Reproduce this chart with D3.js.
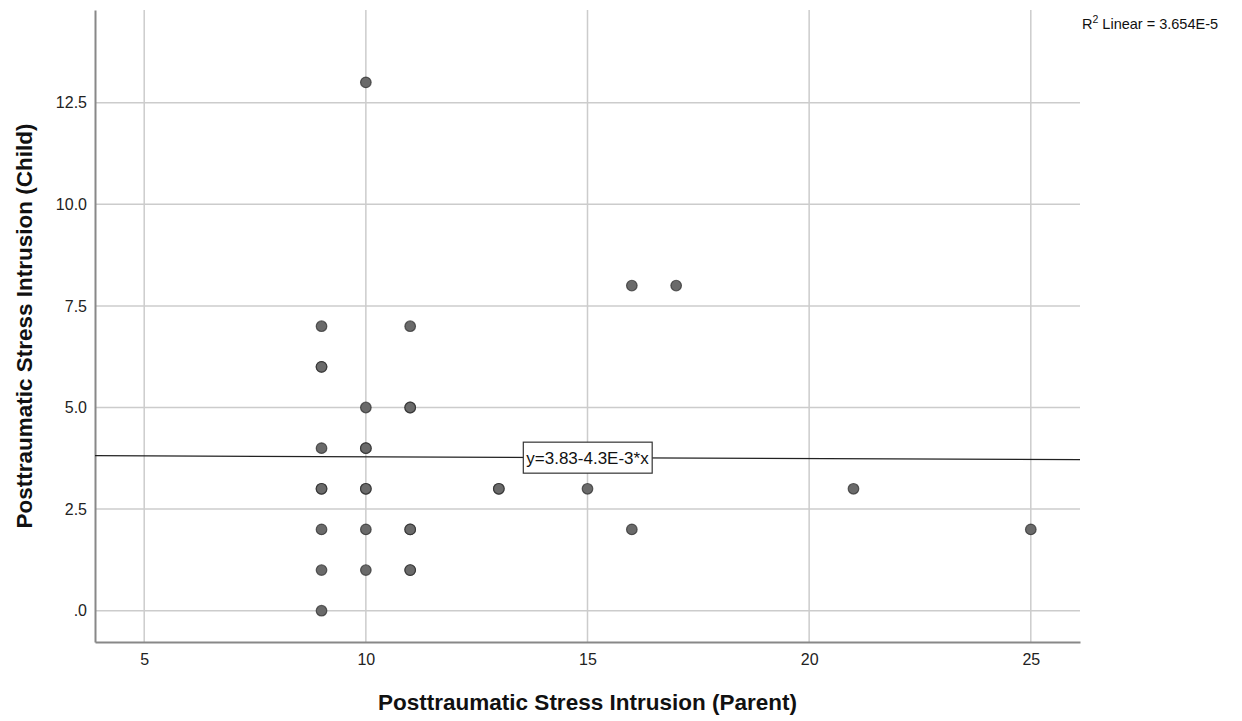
<!DOCTYPE html>
<html>
<head>
<meta charset="utf-8">
<script src="https://cdn.jsdelivr.net/npm/d3@7"></script>
<style>
  body { margin: 0; background: #fff; }
  text { font-family: "Liberation Sans", Arial, sans-serif; }
</style>
</head>
<body>
<div id="chart"></div>
<script>
// parent intrusion (x) and child intrusion (y), one entry per case
const parentScores = [9, 9, 9, 9, 9, 9, 9, 9, 9, 10, 10, 10, 10, 10, 10, 10, 10, 11, 11, 11, 11, 11, 11, 11, 13, 13, 15, 16, 16, 17, 21, 25];
const childScores = [7, 6, 6, 4, 3, 3, 2, 1, 0, 13, 5, 4, 4, 3, 3, 2, 1, 7, 5, 5, 2, 2, 1, 1, 3, 3, 3, 8, 2, 8, 3, 2];
const xTicks = [5, 10, 15, 20, 25];
const yTicks = [0, 2.5, 5, 7.5, 10, 12.5];
const fitIntercept = 3.83;
const fitSlope = -0.0043;
const fitLabel = 'y=3.83-4.3E-3*x';
const rSquaredLabel = ' Linear = 3.654E-5';

const width = 1242;
const height = 721;
const plot = { left: 95, right: 1080, top: 10, bottom: 642 };

const svg = d3.select('#chart')
  .append('svg')
  .attr('width', width)
  .attr('height', height);

const x = d3.scaleLinear().domain([3.89, 26.11]).range([plot.left, plot.right]);
const y = d3.scaleLinear().domain([-0.77, 14.78]).range([plot.bottom, plot.top]);

// grid
svg.append('g')
  .selectAll('line')
  .data(yTicks)
  .enter()
  .append('line')
  .attr('x1', plot.left).attr('x2', plot.right)
  .attr('y1', d => y(d)).attr('y2', d => y(d))
  .attr('stroke', '#cccccc').attr('stroke-width', 1.5);

svg.append('g')
  .selectAll('line')
  .data(xTicks)
  .enter()
  .append('line')
  .attr('x1', d => x(d)).attr('x2', d => x(d))
  .attr('y1', plot.top).attr('y2', plot.bottom)
  .attr('stroke', '#cccccc').attr('stroke-width', 1.5);

// axes
const xAxis = svg.append('g')
  .attr('transform', `translate(0, ${plot.bottom})`)
  .call(d3.axisBottom(x).tickValues(xTicks).tickSize(0).tickPadding(12).tickFormat(d3.format('d')));
xAxis.select('.domain').attr('stroke', '#888').attr('stroke-width', 2);
xAxis.selectAll('text').attr('font-size', 16).attr('fill', '#222').style('font-family', '"Liberation Sans", Arial, sans-serif');

const yAxis = svg.append('g')
  .attr('transform', `translate(${plot.left}, 0)`)
  .call(d3.axisLeft(y).tickValues(yTicks).tickSize(0).tickPadding(8)
    .tickFormat(d => d === 0 ? '.0' : d.toFixed(1)));
yAxis.select('.domain').attr('stroke', '#888').attr('stroke-width', 2);
yAxis.selectAll('text').attr('font-size', 16).attr('fill', '#222').style('font-family', '"Liberation Sans", Arial, sans-serif');

// fit line
const fit = d => fitIntercept + fitSlope * d;
const xDom = x.domain();
svg.append('line')
  .attr('x1', x(xDom[0])).attr('y1', y(fit(xDom[0])))
  .attr('x2', x(xDom[1])).attr('y2', y(fit(xDom[1])))
  .attr('stroke', '#222').attr('stroke-width', 1.2);

// points
const points = parentScores.map((p, i) => ({ p: p, c: childScores[i] }));
svg.append('g')
  .selectAll('circle')
  .data(points)
  .enter()
  .append('circle')
  .attr('cx', d => x(d.p))
  .attr('cy', d => y(d.c))
  .attr('r', 5.3)
  .attr('fill', '#6a6a6a')
  .attr('stroke', '#2a2a2a')
  .attr('stroke-opacity', 0.7)
  .attr('stroke-width', 1.2);

// fit label box
const labelG = svg.append('g')
  .attr('transform', `translate(${x(15)}, ${y(fit(15))})`);
const labelText = labelG.append('text')
  .attr('text-anchor', 'middle')
  .attr('dy', '0.35em')
  .attr('font-size', 17)
  .attr('fill', '#111')
  .text(fitLabel);
const bb = labelText.node().getBBox();
labelG.insert('rect', 'text')
  .attr('x', bb.x - 3).attr('y', -15.5)
  .attr('width', bb.width + 6).attr('height', 31)
  .attr('fill', '#fff').attr('stroke', '#333').attr('stroke-width', 1.2);

// R squared
const r2 = svg.append('text')
  .attr('x', 1082).attr('y', 29)
  .attr('font-size', 14.5)
  .attr('fill', '#111');
r2.append('tspan').text('R');
r2.append('tspan').attr('dy', -6).attr('font-size', 10.5).text('2');
r2.append('tspan').attr('dy', 6).text(rSquaredLabel);

// titles
svg.append('text')
  .attr('x', (plot.left + plot.right) / 2)
  .attr('y', 710)
  .attr('text-anchor', 'middle')
  .attr('font-size', 22.5)
  .attr('font-weight', 'bold')
  .attr('fill', '#111')
  .text('Posttraumatic Stress Intrusion (Parent)');

svg.append('text')
  .attr('transform', `translate(32, ${(plot.top + plot.bottom) / 2}) rotate(-90)`)
  .attr('text-anchor', 'middle')
  .attr('font-size', 22.5)
  .attr('font-weight', 'bold')
  .attr('fill', '#111')
  .text('Posttraumatic Stress Intrusion (Child)');
</script>
</body>
</html>
